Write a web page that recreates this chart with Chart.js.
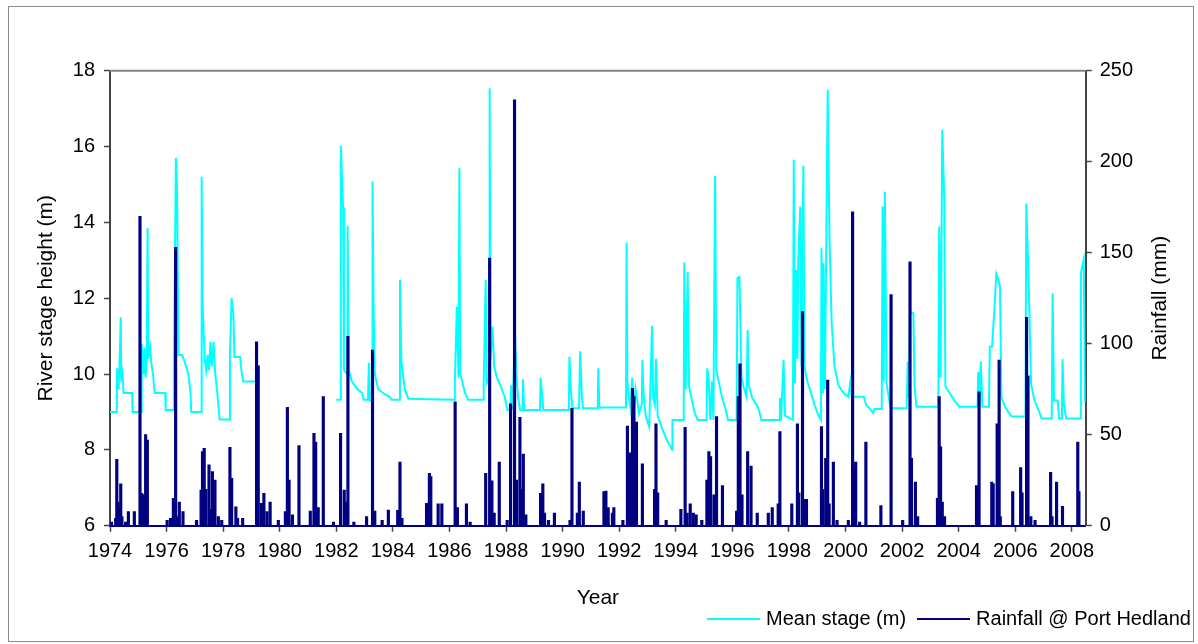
<!DOCTYPE html>
<html>
<head>
<meta charset="utf-8">
<title>River stage and rainfall</title>
<script src="https://cdn.jsdelivr.net/npm/chart.js@4.4.0/dist/chart.umd.min.js"></script>
<style>
  html, body { margin: 0; padding: 0; background: #fff; }
  #wrap { position: relative; width: 1198px; height: 644px; }
  #frame { position: absolute; left: 8px; top: 6px; width: 1184px; height: 634px; border: 1px solid #8c8c8c; pointer-events: none; }
  #legend { position: absolute; left: 707px; top: 607px; display: flex; align-items: center;
            font: 20px 'Liberation Sans', Arial, sans-serif; color: #000; white-space: nowrap; }
  #legend .item { display: flex; align-items: center; margin-right: 11px; }
  #legend .line { display: inline-block; width: 53px; height: 2px; margin-right: 6px; }
</style>
</head>
<body>
<div id="wrap">
  <canvas id="canvas" width="1198" height="644"></canvas>
  <div id="frame"></div>
  <div id="legend"></div>
</div>
<script>
// mean river stage (m)
var stageYear = [
  1974.00, 1974.24, 1974.25, 1974.30, 1974.33, 1974.38, 1974.40, 1974.44, 1974.48, 1974.78, 1974.80,
  1975.10, 1975.12, 1975.18, 1975.22, 1975.26, 1975.30, 1975.33, 1975.35, 1975.42, 1975.46, 1975.52, 1975.58, 1975.95, 1975.97,
  1976.24, 1976.26, 1976.33, 1976.37, 1976.42, 1976.55, 1976.65, 1976.77, 1976.85, 1976.87,
  1977.23, 1977.24, 1977.27, 1977.31, 1977.35, 1977.40, 1977.45, 1977.50, 1977.55, 1977.60, 1977.66, 1977.72, 1977.78, 1977.84, 1977.88,
  1978.22, 1978.24, 1978.30, 1978.36, 1978.40, 1978.60, 1978.66, 1978.71, 1979.13,
  1980.50,
  1982.00, 1982.15, 1982.16, 1982.24, 1982.27, 1982.38, 1982.40, 1982.44, 1982.55, 1982.75, 1982.92, 1982.97,
  1983.12, 1983.15, 1983.19, 1983.27, 1983.28, 1983.32, 1983.36, 1983.48, 1983.65, 1983.88, 1983.95,
  1984.22, 1984.25, 1984.30, 1984.42, 1984.55,
  1986.17, 1986.19, 1986.26, 1986.32, 1986.35, 1986.38, 1986.45, 1986.55, 1986.66,
  1987.19, 1987.21, 1987.28, 1987.32, 1987.41, 1987.42, 1987.45, 1987.52, 1987.58, 1987.68, 1987.82, 1987.95,
  1988.05, 1988.15, 1988.18, 1988.22, 1988.32, 1988.37, 1988.42, 1988.50, 1988.58, 1988.60, 1988.64,
  1989.20, 1989.22, 1989.28, 1989.32,
  1990.22, 1990.24, 1990.30, 1990.35, 1990.58, 1990.62, 1990.68, 1990.72,
  1991.24, 1991.26, 1991.30,
  1992.24, 1992.26, 1992.29, 1992.34, 1992.40, 1992.46, 1992.52, 1992.58, 1992.70, 1992.80, 1992.82, 1992.86, 1992.94,
  1993.06, 1993.16, 1993.20, 1993.26, 1993.30, 1993.36, 1993.50, 1993.66, 1993.82, 1993.87, 1993.88,
  1994.28, 1994.30, 1994.35, 1994.42, 1994.47, 1994.60, 1994.68, 1994.78,
  1995.09, 1995.11, 1995.16, 1995.22, 1995.28, 1995.33, 1995.39, 1995.43, 1995.52, 1995.63, 1995.75, 1995.85,
  1996.15, 1996.18, 1996.25, 1996.32, 1996.42, 1996.50, 1996.54, 1996.58, 1996.70, 1996.92,
  1997.03, 1997.66, 1997.68, 1997.72, 1997.81, 1997.86,
  1998.14, 1998.17, 1998.21, 1998.26, 1998.30, 1998.33, 1998.40, 1998.44, 1998.51, 1998.55, 1998.65, 1998.78, 1998.90,
  1999.02, 1999.13, 1999.15, 1999.20, 1999.22, 1999.27, 1999.37, 1999.43, 1999.51, 1999.61, 1999.75, 1999.93,
  2000.10, 2000.17, 2000.22, 2000.65, 2000.72, 2000.90, 2000.98,
  2001.03, 2001.28, 2001.31, 2001.35, 2001.39, 2001.45, 2001.57, 2001.63,
  2002.16, 2002.20, 2002.24, 2002.28, 2002.40, 2002.44, 2002.51,
  2003.28, 2003.31, 2003.36, 2003.42, 2003.49, 2003.53, 2003.68, 2003.85,
  2004.02, 2004.67, 2004.69, 2004.73, 2004.78, 2004.84,
  2005.07, 2005.10, 2005.18, 2005.26, 2005.33, 2005.40, 2005.46, 2005.51, 2005.63, 2005.87,
  2006.36, 2006.39, 2006.47, 2006.56, 2006.68, 2006.85, 2006.93,
  2007.29, 2007.32, 2007.37, 2007.50, 2007.55, 2007.65, 2007.67, 2007.72, 2007.80,
  2008.29, 2008.32, 2008.42, 2008.47
];
var stageM = [
  9.0, 9.0, 10.15, 9.6, 10.1, 11.5, 9.8, 10.0, 9.5, 9.5, 9.0,
  9.0, 10.8, 10.0, 10.7, 9.9, 10.5, 13.85, 10.4, 10.7, 10.3, 10.0, 9.5, 9.5, 9.05,
  9.05, 10.3, 15.7, 14.9, 10.5, 10.5, 10.3, 10.0, 9.47, 9.0,
  9.0, 15.2, 12.0, 11.1, 10.4, 10.1, 10.5, 10.1, 10.85, 10.2, 10.85, 10.0, 9.6, 9.1, 8.8,
  8.8, 10.6, 12.0, 11.6, 10.45, 10.45, 10.0, 9.8, 9.8,
  null,
  9.32, 9.32, 16.02, 14.4, 10.1, 10.0, 13.9, 10.1, 9.8, 9.6, 9.5, 9.32,
  9.32, 10.3, 9.3, 9.3, 15.08, 11.6, 10.0, 9.6, 9.5, 9.4, 9.32,
  9.32, 12.48, 10.35, 9.6, 9.35,
  9.32, 9.76, 11.78, 9.9, 15.43, 10.03, 9.8, 9.5, 9.32,
  9.32, 9.76, 12.48, 9.76, 9.9, 17.54, 10.37, 11.25, 10.2, 9.9, 9.67, 9.4,
  9.05, 9.05, 9.7, 9.05, 10.99, 10.0, 9.4, 9.05, 9.05, 9.86, 9.05,
  9.05, 9.9, 9.4, 9.05,
  9.05, 10.46, 9.5, 9.1, 9.1, 10.6, 9.4, 9.1,
  9.1, 10.15, 9.12,
  9.12, 13.47, 9.8, 9.4, 9.1, 9.9, 9.1, 9.6, 8.95, 9.2, 10.37, 9.5, 8.88,
  8.61, 11.27, 9.4, 9.2, 10.4, 8.9, 8.6, 8.3, 8.08, 8.0, 8.79,
  8.79, 12.94, 9.6, 12.7, 9.67, 9.2, 8.95, 8.79,
  8.79, 10.15, 9.9, 8.79, 9.8, 8.79, 15.23, 10.1, 9.8, 9.4, 9.1, 8.79,
  8.79, 12.53, 12.56, 9.9, 9.6, 9.4, 11.16, 9.7, 9.37, 9.1,
  8.79, 8.79, 9.37, 8.79, 10.37, 8.9,
  8.79, 15.65, 9.76, 12.75, 10.4, 13.0, 14.42, 10.2, 15.49, 10.2, 9.8, 9.5, 9.2,
  8.95, 8.79, 13.32, 9.5, 12.92, 9.6, 17.5, 13.72, 11.35, 10.2, 9.7, 9.5,
  9.4, 9.8, 9.4, 9.4, 9.2, 9.05, 8.97,
  9.08, 9.08, 14.42, 9.8, 14.81, 9.76, 9.2, 9.1,
  9.1, 10.33, 9.4, 11.65, 11.6, 9.67, 9.14,
  9.14, 13.89, 9.9, 16.44, 14.6, 9.67, 9.5, 9.3,
  9.14, 9.14, 10.06, 9.14, 10.33, 9.14,
  9.14, 10.72, 10.72, 11.69, 12.64, 12.5, 12.3, 9.4, 9.14, 8.88,
  8.88, 14.5, 12.57, 9.73, 9.3, 9.0, 8.83,
  8.83, 12.13, 9.3, 9.3, 8.83, 8.83, 10.39, 9.2, 8.83,
  8.83, 12.66, 13.01, 9.25
];

// rainfall at Port Hedland (mm)
var rainYear = [
  1974.05, 1974.20, 1974.24, 1974.28, 1974.33, 1974.38, 1974.42, 1974.55, 1974.65, 1974.86,
  1975.06, 1975.12, 1975.18, 1975.26, 1975.32,
  1976.02, 1976.14, 1976.24, 1976.32, 1976.38, 1976.45, 1976.58,
  1977.06, 1977.22, 1977.27, 1977.33, 1977.39, 1977.50, 1977.56, 1977.62, 1977.71, 1977.83, 1977.95,
  1978.24, 1978.30, 1978.45, 1978.51, 1978.69,
  1979.18, 1979.24, 1979.35, 1979.44, 1979.55, 1979.66, 1979.95,
  1980.20, 1980.27, 1980.33, 1980.45, 1980.68,
  1981.08, 1981.21, 1981.27, 1981.36, 1981.54, 1981.90,
  1982.15, 1982.28, 1982.33, 1982.41, 1982.62,
  1983.07, 1983.28, 1983.36, 1983.62, 1983.84,
  1984.17, 1984.25, 1984.32,
  1985.19, 1985.29, 1985.34, 1985.60, 1985.73,
  1986.20, 1986.28, 1986.60, 1986.73,
  1987.28, 1987.42, 1987.47, 1987.50, 1987.58, 1987.76,
  1988.04, 1988.16, 1988.30, 1988.37, 1988.49, 1988.55, 1988.61, 1988.70,
  1989.22, 1989.30, 1989.36, 1989.50, 1989.71,
  1990.26, 1990.33, 1990.52, 1990.59, 1990.73,
  1991.46, 1991.53, 1991.61, 1991.76, 1991.81,
  1992.13, 1992.29, 1992.40, 1992.47, 1992.52, 1992.61, 1992.82,
  1993.25, 1993.30, 1993.36, 1993.66,
  1994.18, 1994.33, 1994.40, 1994.51, 1994.62, 1994.72, 1994.92,
  1995.10, 1995.17, 1995.23, 1995.35, 1995.44, 1995.65,
  1996.15, 1996.21, 1996.27, 1996.34, 1996.54, 1996.66, 1996.88,
  1997.27, 1997.41, 1997.62, 1997.68,
  1998.10, 1998.30, 1998.35, 1998.48, 1998.52, 1998.57, 1998.62,
  1999.15, 1999.19, 1999.30, 1999.37, 1999.42, 1999.57, 1999.70,
  2000.10, 2000.25, 2000.30, 2000.36, 2000.50, 2000.72,
  2001.25, 2001.61,
  2002.02, 2002.28, 2002.33, 2002.47, 2002.55,
  2003.25, 2003.31, 2003.36, 2003.42, 2003.50,
  2004.63, 2004.67, 2004.72,
  2005.17, 2005.22, 2005.36, 2005.43, 2005.47, 2005.91,
  2006.19, 2006.24, 2006.40, 2006.45, 2006.55, 2006.70,
  2007.25, 2007.30, 2007.46, 2007.67,
  2008.21, 2008.25
];
var rainMm = [
  2, 4, 36.5, 13, 10, 23, 5, 2, 7.7, 7.7,
  170, 17.8, 17, 50, 47,
  3, 4, 15, 153, 5, 13, 7.7,
  3, 19.6, 40.7, 42.5, 20, 33.4, 9, 29.7, 25, 5, 3,
  43, 26, 10.4, 4, 4,
  101, 87.8, 12.3, 17.8, 7.7, 13, 3,
  7.7, 65, 25, 6, 44,
  8, 50.8, 46, 10, 71, 2,
  50.8, 19.6, 13, 104, 2,
  5, 96.5, 8, 3, 8.6,
  8.5, 35, 4,
  12.3, 28.8, 27, 12, 12,
  68, 10, 12, 2,
  28.8, 147, 10, 24.7, 7, 35,
  3, 67, 234, 25, 59.5, 20, 39.4, 6,
  17.8, 23, 7, 3, 7,
  3, 64.5, 7, 24, 8,
  18.7, 19, 10, 7, 10,
  3, 54.8, 40, 75.5, 71, 57, 34,
  20, 56, 18, 3,
  9, 54, 7, 12, 7, 6, 3,
  25, 40.7, 38, 17, 60, 22,
  8, 71, 89, 17, 40.7, 32.8, 7,
  7, 10, 12, 51.7,
  12, 56, 18, 117.6, 14.5, 14.5, 14.5,
  54.4, 20, 37, 80, 12, 35, 3,
  3, 172.5, 32, 35, 2, 46,
  11, 127,
  3, 145, 37, 24, 5,
  15, 71, 43.4, 13, 5,
  22, 19.6, 73.6,
  24, 23, 56, 91, 5, 18.7,
  32, 18, 114.5, 82.4, 5, 3,
  29.3, 5, 24, 10.7,
  46, 18.7
];

var yearTicksStep = 2;
var stageTicks = [6, 8, 10, 12, 14, 16, 18];
var rainTicks = [0, 50, 100, 150, 200, 250];

var FONT = "'Liberation Sans', Arial, sans-serif";

var stagePoints = stageYear.map(function (x, i) { return { x: x, y: stageM[i] }; });
var rainPoints = rainYear.map(function (x, i) { return { x: x, y: rainMm[i] }; });

// grey line along the top of the plot area
var topBorder = {
  id: 'topBorder',
  afterDraw: function (chart) {
    var a = chart.chartArea, ctx = chart.ctx;
    ctx.save();
    ctx.strokeStyle = '#868686';
    ctx.lineWidth = 2;
    ctx.beginPath();
    ctx.moveTo(a.left, a.top);
    ctx.lineTo(a.right, a.top);
    ctx.stroke();
    ctx.restore();
  }
};

// right axis title reads bottom to top, like the left one
var rightTitle = {
  id: 'rightTitle',
  afterDraw: function (chart) {
    var a = chart.chartArea, ctx = chart.ctx;
    ctx.save();
    ctx.translate(chart.scales.y2.right - 38, (a.top + a.bottom) / 2);
    ctx.rotate(-Math.PI / 2);
    ctx.font = '21px ' + FONT;
    ctx.fillStyle = '#000';
    ctx.textAlign = 'center';
    ctx.textBaseline = 'middle';
    ctx.fillText('Rainfall (mm)', 0, 0);
    ctx.restore();
  }
};

window.onload = function () {
  var ctx = document.getElementById('canvas').getContext('2d');
  window.myChart = new Chart(ctx, {
    type: 'line',
    data: {
      datasets: [{
        type: 'line',
        label: 'Mean stage (m)',
        data: stagePoints,
        borderColor: '#00FFFF',
        backgroundColor: '#00FFFF',
        borderWidth: 2,
        pointRadius: 0,
        tension: 0,
        spanGaps: false,
        yAxisID: 'y',
        order: 2
      }, {
        type: 'bar',
        label: 'Rainfall @ Port Hedland',
        data: rainPoints,
        backgroundColor: '#000080',
        borderColor: '#000080',
        borderWidth: 0,
        barThickness: 2.5,
        yAxisID: 'y2',
        order: 1
      }]
    },
    options: {
      responsive: false,
      animation: false,
      layout: { padding: { top: 70.7, left: 0, right: 0, bottom: 0 } },
      plugins: {
        legend: { display: false },
        tooltip: { enabled: false }
      },
      scales: {
        x: {
          type: 'linear',
          min: 1974,
          max: 2008.49,
          offset: false,
          grid: { display: true, drawOnChartArea: false, offset: false, color: '#444', tickLength: 6, tickWidth: 1.5 },
          border: { display: true, color: '#000080', width: 2 },
          ticks: {
            stepSize: yearTicksStep,
            includeBounds: false,
            autoSkip: false,
            maxRotation: 0,
            padding: 8,
            color: '#000',
            font: { family: FONT, size: 20 },
            callback: function (v) { return String(v); }
          },
          title: { display: true, text: 'Year', color: '#000', font: { family: FONT, size: 21 }, padding: { top: 0, bottom: 33 } },
          afterFit: function (s) { s.height = 644 - 525.7; }
        },
        y: {
          position: 'left',
          min: 6,
          max: 18,
          afterBuildTicks: function (s) { s.ticks = stageTicks.map(function (v) { return { value: v }; }); },
          grid: { display: true, drawOnChartArea: false, color: '#444', tickLength: 6, tickWidth: 1.5 },
          border: { display: true, color: '#444', width: 2 },
          ticks: { padding: 9, color: '#000', font: { family: FONT, size: 20 } },
          title: { display: true, text: 'River stage height (m)', color: '#000', font: { family: FONT, size: 21 }, padding: { top: 34, bottom: 0 } },
          afterFit: function (s) { s.width = 110; }
        },
        y2: {
          position: 'right',
          min: 0,
          max: 250,
          afterBuildTicks: function (s) { s.ticks = rainTicks.map(function (v) { return { value: v }; }); },
          grid: { display: true, drawOnChartArea: false, color: '#444', tickLength: 6, tickWidth: 1.5 },
          border: { display: true, color: '#444', width: 2 },
          ticks: { padding: 8, color: '#000', font: { family: FONT, size: 20 } },
          title: { display: false },
          afterFit: function (s) { s.width = 1198 - 1085.7; }
        }
      }
    },
    plugins: [topBorder, rightTitle]
  });

  // legend in the lower right, built from the datasets
  var legend = document.getElementById('legend');
  myChart.data.datasets.forEach(function (ds) {
    var item = document.createElement('span');
    item.className = 'item';
    var line = document.createElement('span');
    line.className = 'line';
    line.style.background = ds.borderColor;
    var txt = document.createElement('span');
    txt.textContent = ds.label;
    item.appendChild(line);
    item.appendChild(txt);
    legend.appendChild(item);
  });
};
</script>
</body>
</html>
